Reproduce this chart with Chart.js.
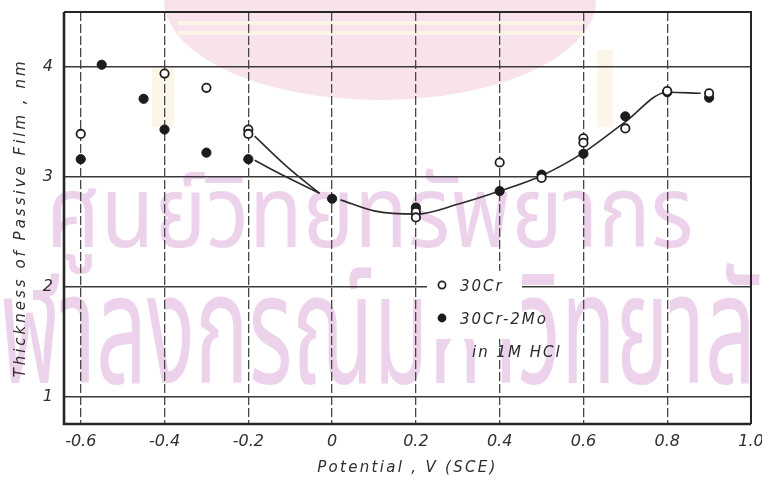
<!DOCTYPE html>
<html><head><meta charset="utf-8">
<script src="https://cdn.jsdelivr.net/npm/chart.js@4.4.1/dist/chart.umd.min.js"></script>
<style>html,body{margin:0;padding:0;background:#fff}#wrap{width:762px;height:484px;position:relative}</style>
</head><body><div id="wrap"><canvas id="c" width="762" height="484"></canvas></div>
<script>
// ---- data ----
const xTicks = [-0.6, -0.4, -0.2, 0, 0.2, 0.4, 0.6, 0.8, 1.0];
const xTickLabels = ['-0.6', '-0.4', '-0.2', '0', '0.2', '0.4', '0.6', '0.8', '1.0'];
const yTicks = [1, 2, 3, 4];
const yTickLabels = ['1', '2', '3', '4'];

const cr30X = [-0.6, -0.4, -0.3, -0.2, -0.2, 0.2, 0.2, 0.4, 0.5, 0.6, 0.6, 0.7, 0.8, 0.9];
const cr30Y = [3.39, 3.94, 3.81, 3.43, 3.39, 2.68, 2.63, 3.13, 2.99, 3.35, 3.31, 3.44, 3.78, 3.76];

const mo2X = [-0.6, -0.55, -0.45, -0.4, -0.3, -0.2, 0, 0.2, 0.4, 0.5, 0.6, 0.7, 0.8, 0.9];
const mo2Y = [3.16, 4.02, 3.71, 3.43, 3.22, 3.16, 2.80, 2.72, 2.87, 3.02, 3.21, 3.55, 3.77, 3.72];

const curveCrX = [-0.185, -0.11, -0.03];
const curveCrY = [3.37, 3.10, 2.85];
const curveMoX = [-0.185, -0.11, -0.03];
const curveMoY = [3.15, 3.00, 2.85];
const curveMainX = [0.02, 0.1, 0.2, 0.3, 0.4, 0.5, 0.6, 0.7, 0.8, 0.88];
const curveMainY = [2.79, 2.69, 2.66, 2.75, 2.87, 3.01, 3.22, 3.50, 3.77, 3.76];

const seriesNames = ['30Cr', '30Cr-2Mo'];
const legendNote = 'in 1M HCl';
const xTitle = 'Potential , V (SCE)';
const yTitle = 'Thickness of Passive Film , nm';
const wmLine1 = 'ศูนย์วิทยทรัพยากร';
const wmLine2 = 'จุฬาลงกรณ์มหาวิทยาลัย';

const zip = (xs, ys) => xs.map((x, i) => ({x, y: ys[i]}));
const FONT = '"DejaVu Sans", sans-serif';

// ---- plugins ----
const watermark = {
  id: 'watermark',
  beforeDraw(chart) {
    const ctx = chart.ctx;
    ctx.save();
    ctx.fillStyle = '#fff';
    ctx.fillRect(0, 0, chart.width, chart.height);
    ctx.fillStyle = 'rgba(248,226,236,0.95)';
    ctx.beginPath(); ctx.ellipse(380, 0, 216, 100, 0, 0, Math.PI); ctx.fill();
    ctx.fillStyle = 'rgba(251,246,230,0.95)';
    ctx.fillRect(178, 21, 405, 4); ctx.fillRect(178, 31, 405, 4);
    ctx.fillRect(152, 67, 22, 60); ctx.fillRect(597, 50, 16, 77);
    ctx.fillStyle = 'rgba(234,205,233,0.9)';
    ctx.textBaseline = 'alphabetic';
    ctx.textAlign = 'left';
    const fam = '"Noto Sans Thai","Noto Sans","DejaVu Sans",sans-serif';
    ctx.font = '100px ' + fam;
    let asc = ctx.measureText('น').actualBoundingBoxAscent || 55;
    let f1 = 100 * 55 / asc;
    ctx.font = f1 + 'px ' + fam;
    let m1 = ctx.measureText(wmLine1);
    let sx1 = 637 / (m1.actualBoundingBoxRight + m1.actualBoundingBoxLeft);
    ctx.save(); ctx.translate(53, 247); ctx.scale(sx1, 1);
    ctx.fillText(wmLine1, m1.actualBoundingBoxLeft, 0); ctx.restore();
    let f2 = 100 * 85 / asc;
    ctx.font = f2 + 'px ' + fam;
    const pre = wmLine2.slice(0, 2);
    const mid = wmLine2.slice(2, wmLine2.length - 3);
    let wPre = ctx.measureText(pre).width;
    let wMid = ctx.measureText(mid).width;
    let sx2 = 705 / wMid;
    ctx.save(); ctx.translate(0, 383); ctx.scale(sx2, 1);
    ctx.fillText(wmLine2, -wPre, 0); ctx.restore();
    ctx.restore();
  }
};

const titleSpacing = {
  id: 'titleSpacing',
  beforeDraw(chart) {
    const sp = {x: '2.3px', y: '3px'};
    Object.values(chart.scales).forEach(s => {
      if (s._wrappedTitle) return;
      const orig = s.drawTitle;
      s.drawTitle = function () {
        this.ctx.save();
        this.ctx.letterSpacing = sp[this.id] || '0px';
        orig.call(this);
        this.ctx.restore();
      };
      s._wrappedTitle = true;
    });
  }
};

const frame = {
  id: 'frame',
  beforeDatasetsDraw(chart) {
    const {ctx, chartArea: a} = chart;
    ctx.save();
    ctx.strokeStyle = '#262626';
    ctx.lineWidth = 2;
    ctx.beginPath(); ctx.moveTo(a.left, a.top); ctx.lineTo(a.right, a.top); ctx.lineTo(a.right, a.bottom); ctx.stroke();
    ctx.lineWidth = 2.6;
    ctx.beginPath(); ctx.moveTo(a.left, a.top); ctx.lineTo(a.left, a.bottom); ctx.lineTo(a.right, a.bottom); ctx.stroke();
    ctx.fillStyle = '#fff';
    ctx.fillRect(427, 271, 95, 68);
    ctx.restore();
  },
  afterDatasetsDraw(chart) {
    const ctx = chart.ctx;
    ctx.save();
    ctx.letterSpacing = '2px';
    ctx.font = 'italic 15px ' + FONT;
    ctx.textBaseline = 'middle';
    ctx.textAlign = 'left';
    ctx.beginPath(); ctx.arc(442, 285, 3.6, 0, Math.PI * 2);
    ctx.fillStyle = '#fff'; ctx.fill();
    ctx.lineWidth = 1.7; ctx.strokeStyle = '#222'; ctx.stroke();
    ctx.beginPath(); ctx.arc(442, 318, 4.4, 0, Math.PI * 2);
    ctx.fillStyle = '#1c1c1c'; ctx.fill();
    ctx.fillStyle = '#2a2a2a';
    ctx.fillText(seriesNames[0], 460, 287);
    ctx.fillText(seriesNames[1], 460, 320);
    ctx.fillText(legendNote, 472, 353);
    ctx.restore();
  }
};

new Chart(document.getElementById('c'), {
  type: 'scatter',
  data: {
    datasets: [
      {label: seriesNames[0], data: zip(cr30X, cr30Y), showLine: false, pointRadius: 4.2,
       pointBorderWidth: 1.8, pointBackgroundColor: '#fff', pointBorderColor: '#1e1e1e', order: 0},
      {label: seriesNames[1], data: zip(mo2X, mo2Y), showLine: false, pointRadius: 4.6,
       pointBorderWidth: 1, pointBackgroundColor: '#1c1c1c', pointBorderColor: '#1c1c1c', order: 1},
      {label: 'c1', data: zip(curveCrX, curveCrY), showLine: true, pointRadius: 0, borderColor: '#2a2a2a',
       borderWidth: 1.6, tension: 0.4, order: 2},
      {label: 'c2', data: zip(curveMoX, curveMoY), showLine: true, pointRadius: 0, borderColor: '#2a2a2a',
       borderWidth: 1.6, tension: 0.4, order: 2},
      {label: 'c3', data: zip(curveMainX, curveMainY), showLine: true, pointRadius: 0, borderColor: '#2a2a2a',
       borderWidth: 1.6, cubicInterpolationMode: 'monotone', order: 2}
    ]
  },
  options: {
    responsive: false,
    animation: false,
    events: [],
    layout: {padding: {left: 0, top: 12, right: 11, bottom: 0}},
    plugins: {legend: {display: false}, tooltip: {enabled: false}},
    scales: {
      x: {
        type: 'linear', min: -0.64, max: 1.0,
        afterBuildTicks: s => { s.ticks = xTicks.map(v => ({value: v})); },
        afterFit: s => { s.height = 60; s.paddingLeft = 0; s.paddingRight = 0; },
        ticks: {
          padding: 8, color: '#2e2e2e', font: {family: FONT, size: 16, style: 'italic'},
          maxRotation: 0, autoSkip: false,
          callback: v => { const i = xTicks.findIndex(t => Math.abs(t - v) < 1e-9); return i >= 0 ? xTickLabels[i] : ''; }
        },
        grid: {color: '#474747', lineWidth: 1.3, drawTicks: false},
        border: {display: false, dash: [9, 3]},
        title: {display: true, text: xTitle, color: '#2e2e2e', padding: {top: 0, bottom: 7},
                font: {family: FONT, size: 15, style: 'italic'}}
      },
      y: {
        type: 'linear', min: 0.75, max: 4.5,
        afterBuildTicks: s => { s.ticks = yTicks.map(v => ({value: v})); },
        afterFit: s => { s.width = 64; s.paddingTop = 0; s.paddingBottom = 0; },
        ticks: {
          padding: 11, color: '#2e2e2e', font: {family: FONT, size: 16, style: 'italic'},
          callback: v => { const i = yTicks.indexOf(v); return i >= 0 ? yTickLabels[i] : ''; }
        },
        grid: {color: '#3a3a3a', lineWidth: 1.6, drawTicks: false},
        border: {display: false},
        title: {display: true, text: yTitle, color: '#2e2e2e', padding: {top: 12, bottom: 0},
                font: {family: FONT, size: 15, style: 'italic'}}
      }
    }
  },
  plugins: [watermark, titleSpacing, frame]
});
</script>
</body></html>
